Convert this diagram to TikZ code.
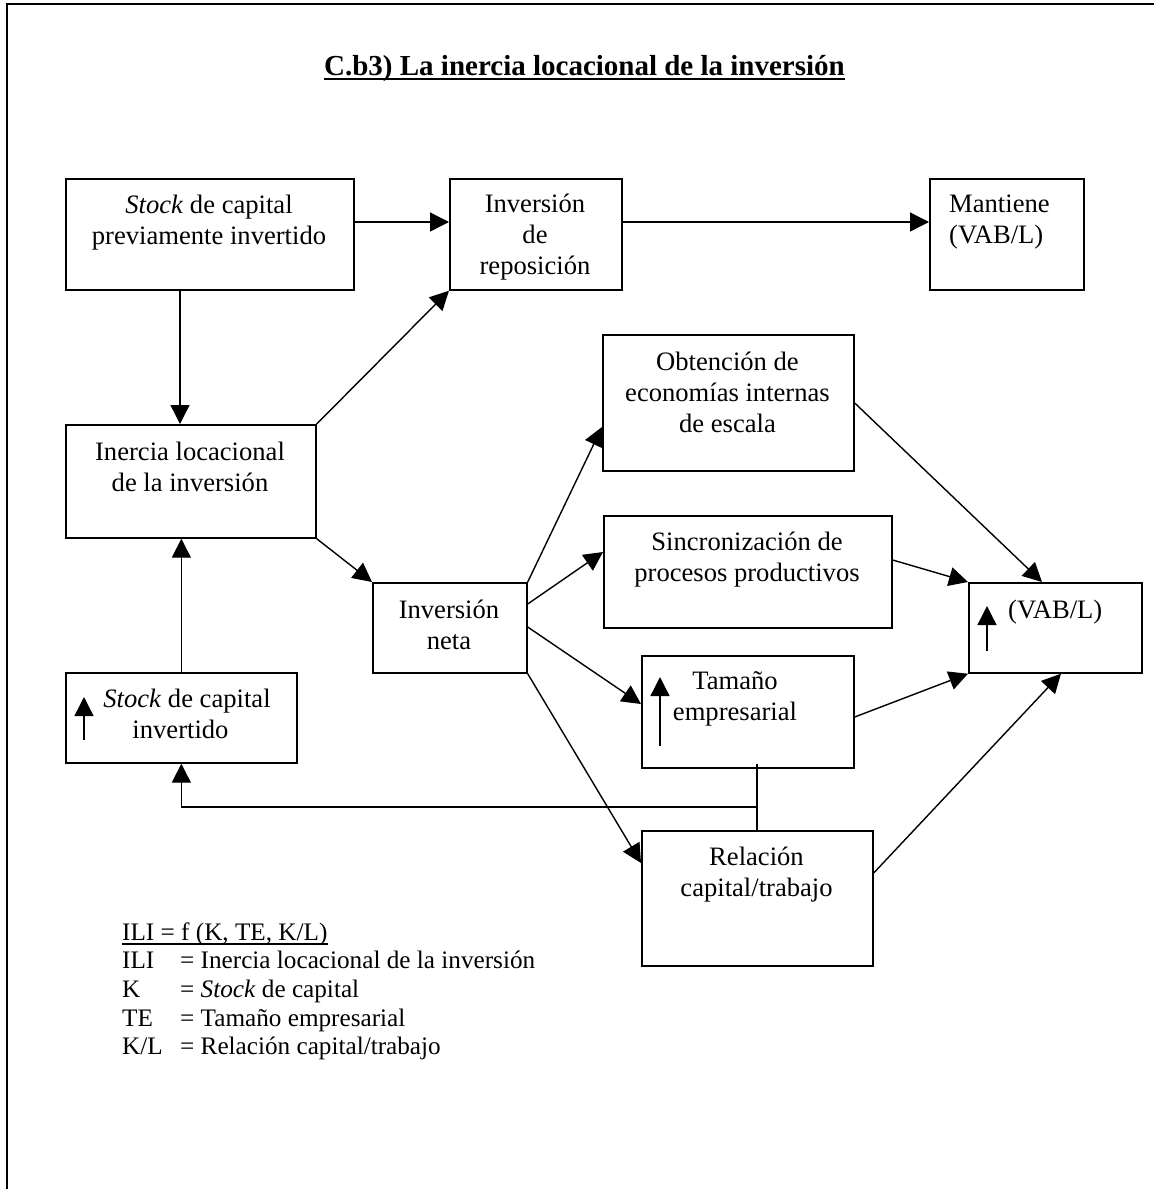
\documentclass[tikz,border=0pt]{standalone}
\usepackage{fontspec}
\setmainfont{Liberation Serif}
\usetikzlibrary{arrows.meta,calc}
\newcommand\txtlines[2]{\parbox[t]{#1}{\centering #2}}
\begin{document}
\begin{tikzpicture}[x=1pt,y=-1pt,
  box/.style={draw, line width=1.7pt, inner sep=0pt, anchor=north west},
  arr/.style={line width=1.4pt, -{Triangle[length=19pt,width=19pt]}},
  plain/.style={line width=1.4pt},
  txt/.style={inner sep=0pt, anchor=base, font=\fontsize{26.6}{31}\selectfont},
  txtl/.style={txt, anchor=base west},
  leg/.style={inner sep=0pt, anchor=base west, font=\fontsize{25.2}{28.7}\selectfont},
  frameline/.style={line width=2pt}]
\useasboundingbox (0,0) rectangle (1154,1189);
% frame (top and left edges)
\draw[frameline] (1154,4) -- (7,4) -- (7,1189);
% title
\node[inner sep=0pt, anchor=base, font=\bfseries\fontsize{29}{34}\selectfont] (title) at (584.5,75) {C.b3) La inercia locacional de la inversión};
\draw[line width=2pt] ($(title.base west)+(0,4)$) -- ($(title.base east)+(0,4)$);
% boxes
\node[box, minimum width=288pt, minimum height=111pt] (A) at (65,178) {};
\node[box, minimum width=172pt, minimum height=111pt] (B) at (449,178) {};
\node[box, minimum width=154pt, minimum height=111pt] (M) at (929,178) {};
\node[box, minimum width=250pt, minimum height=113pt] (C) at (65,424) {};
\node[box, minimum width=251pt, minimum height=136pt] (O) at (602,334) {};
\node[box, minimum width=288pt, minimum height=112pt] (S) at (603,515) {};
\node[box, minimum width=154pt, minimum height=90pt] (D) at (372,582) {};
\node[box, minimum width=173pt, minimum height=90pt] (V) at (968,582) {};
\node[box, minimum width=212pt, minimum height=112pt] (T) at (641,655) {};
\node[box, minimum width=231pt, minimum height=90pt] (E) at (65,672) {};
\node[box, minimum width=231pt, minimum height=135pt] (R) at (641,830) {};
% texts
\node[txt] (tA) at (209,213) {\txtlines{280pt}{\textit{Stock} de capital\\previamente invertido}};
\node[txt] (tB) at (535,212) {\txtlines{160pt}{Inversión\\de\\reposición}};
\node[txtl] (tM) at (949,212) {\parbox[t]{130pt}{Mantiene\\(VAB/L)}};
\node[txt] (tC) at (190,460) {\txtlines{240pt}{Inercia locacional\\de la inversión}};
\node[txt] (tO) at (727.5,370) {\txtlines{240pt}{Obtención de\\economías internas\\de escala}};
\node[txt] (tS) at (747,550) {\txtlines{280pt}{Sincronización de\\procesos productivos}};
\node[txt] (tD) at (449,618) {\txtlines{150pt}{Inversión\\neta}};
\node[txtl] (tV) at (1008,618) {(VAB/L)};
\node[txt] (tT) at (735,689) {\txtlines{200pt}{Tamaño\\empresarial}};
\node[txt] (tE) at (180.5,707) {\txtlines{225pt}{\hspace*{13pt}\textit{Stock} de capital\\invertido}};
\node[txt] (tR) at (756.5,865) {\txtlines{225pt}{Relación\\capital/trabajo}};
% small "increase" arrows inside boxes
\draw[arr] ($(E.north west)+(19,68)$) -- ($(E.north west)+(19,25)$);
\draw[arr] ($(T.north west)+(19,91)$) -- ($(T.north west)+(19,22)$);
\draw[arr] ($(V.north west)+(19,69)$) -- ($(V.north west)+(19,24)$);
% connectors
\draw[arr] ($(A.north east)+(0,44)$) -- ($(B.north west)+(0,44)$);
\draw[arr] ($(B.north east)+(0,44)$) -- ($(M.north west)+(0,44)$);
\draw[arr] ($(A.south west)+(115,0)$) -- ($(C.north west)+(115,0)$);
\draw[arr] (C.north east) -- (B.south west);
\draw[arr] (C.south east) -- (D.north west);
\draw[arr] (E.north) -- (E.north |- C.south);
\draw[arr] (D.north east) -- ($(O.north west)+(0,93)$);
\draw[arr] ($(D.north east)+(0,22)$) -- ($(S.north west)+(0,37)$);
\draw[arr] ($(D.north east)+(0,45)$) -- ($(T.north west)+(0,49)$);
\draw[arr] (D.south east) -- ($(R.north west)+(0,33)$);
\draw[arr] ($(O.north east)+(0,69)$) -- ($(V.north west)+(74,0)$);
\draw[arr] ($(S.north east)+(0,45)$) -- (V.north west);
\draw[arr] ($(T.north east)+(0,62)$) -- (V.south west);
\draw[arr] ($(R.north east)+(0,43)$) -- ($(V.south west)+(93,0)$);
% feedback from Tamaño / Relación to Stock de capital invertido
\coordinate (fb) at ($(R.north west)+(116,-23)$);
\draw[plain] ($(T.south west)+(116,-5)$) -- ($(R.north west)+(116,0)$);
\draw[arr] (fb) -| (E.south);
% legend
\node[leg] (l0) at (122,940) {ILI = f (K, TE, K/L)};
\draw[line width=1.3pt] ($(l0.base west)+(0,4)$) -- ($(l0.base east)+(0,4)$);
\node[leg] (l1a) at (122,968.7) {ILI};
\node[leg] (l1b) at (180,968.7) {= Inercia locacional de la inversión};
\node[leg] (l2a) at (122,997.4) {K};
\node[leg] (l2b) at (180,997.4) {= \textit{Stock} de capital};
\node[leg] (l3a) at (122,1026.1) {TE};
\node[leg] (l3b) at (180,1026.1) {= Tamaño empresarial};
\node[leg] (l4a) at (122,1054.8) {K/L};
\node[leg] (l4b) at (180,1054.8) {= Relación capital/trabajo};
\end{tikzpicture}
\end{document}
